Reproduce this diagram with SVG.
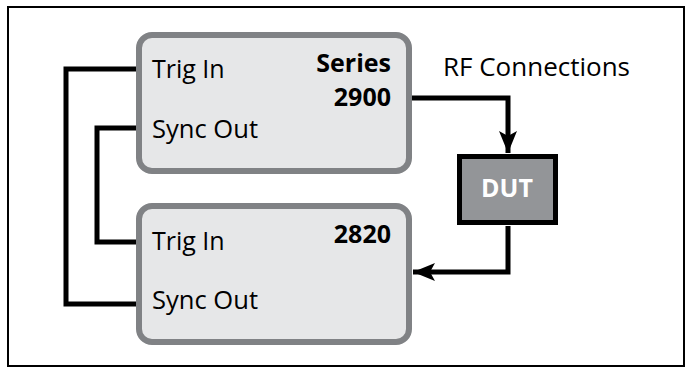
<svg xmlns="http://www.w3.org/2000/svg" width="692" height="368" viewBox="0 0 692 368">
<style>
.box{fill:#e6e7e8;stroke:#808285;stroke-width:6}
.lbl{font-family:"Open Sans","Liberation Sans",sans-serif;font-size:25px;fill:#000}
.b{font-weight:bold;text-anchor:end}
.wire{fill:none;stroke:#000;stroke-width:5;stroke-linejoin:miter}
</style>
<defs>
<marker id="ah" viewBox="0 0 22 18" refX="22" refY="9" markerWidth="22" markerHeight="18" markerUnits="userSpaceOnUse" orient="auto">
<path d="M0,0 L22,9 L0,18 L5,9 Z" fill="#000"/>
</marker>
</defs>
<rect x="8" y="7" width="676" height="359" fill="#fff" stroke="#000" stroke-width="2"/>
<g id="connectors">
<path class="wire" d="M137,69 H66 V304 H137"/>
<path class="wire" d="M137,128 H97 V242 H137"/>
<path class="wire" d="M412,98 H508 V153" marker-end="url(#ah)"/>
<path class="wire" d="M508,226 V272 H413" marker-end="url(#ah)"/>
</g>
<g id="series2900">
<rect class="box" x="139" y="35" width="270" height="136" rx="13"/>
<text class="lbl" x="152" y="78">Trig In</text>
<text class="lbl" x="152" y="138" textLength="106" lengthAdjust="spacingAndGlyphs">Sync Out</text>
<text class="lbl b" x="391" y="72">Series</text>
<text class="lbl b" x="391" y="106">2900</text>
</g>
<g id="m2820">
<rect class="box" x="139" y="206" width="270" height="136" rx="13"/>
<text class="lbl" x="152" y="250">Trig In</text>
<text class="lbl" x="152" y="309" textLength="106" lengthAdjust="spacingAndGlyphs">Sync Out</text>
<text class="lbl b" x="391" y="243">2820</text>
</g>
<g id="dut">
<rect x="459.5" y="156.5" width="96" height="66" fill="#939598" stroke="#000" stroke-width="5"/>
<text x="507" y="197" text-anchor="middle" font-family="'Open Sans','Liberation Sans',sans-serif" font-size="25" font-weight="bold" fill="#fff">DUT</text>
</g>
<g id="rf">
<text class="lbl" x="443" y="76" textLength="187" lengthAdjust="spacingAndGlyphs">RF Connections</text>
</g>
</svg>
